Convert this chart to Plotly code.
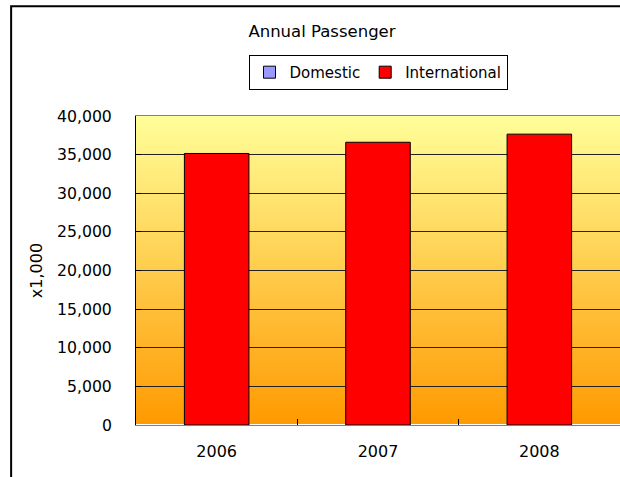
import plotly.graph_objects as go

years = ["2006", "2007", "2008"]
domestic = [None, None, None]
international = [35150, 36600, 37650]
y_ticks = [0, 5000, 10000, 15000, 20000, 25000, 30000, 35000, 40000]
y_tick_labels = ["0", "5,000", "10,000", "15,000", "20,000", "25,000", "30,000", "35,000", "40,000"]

FONT = "DejaVu Sans"

fig = go.Figure()
fig.add_trace(go.Bar(x=years, y=domestic, name="Domestic",
                     marker=dict(color="#9999FF", line=dict(color="black", width=1))))
fig.add_trace(go.Bar(x=years, y=international, name="International", width=0.4,
                     marker=dict(color="#FF0000", line=dict(color="black", width=1))))

# gradient background (yellow -> orange)
shapes = []
N = 100
top = (255, 255, 153)
bot = (255, 153, 0)
for i in range(N):
    t = (i + 0.5) / N
    r = round(bot[0] + (top[0] - bot[0]) * t)
    g = round(bot[1] + (top[1] - bot[1]) * t)
    b = round(bot[2] + (top[2] - bot[2]) * t)
    shapes.append(dict(type="rect", xref="x domain", yref="y domain",
                       x0=0, x1=1, y0=i / N, y1=min(1.0, (i + 2) / N),
                       fillcolor=f"rgb({r},{g},{b})", line=dict(width=0), layer="below"))
# outer chart border
shapes.append(dict(type="rect", xref="paper", yref="paper",
                   x0=-0.258, x1=1.2, y0=-0.4, y1=1.355,
                   line=dict(color="black", width=2), fillcolor="rgba(0,0,0,0)", layer="above"))

fig.update_layout(
    width=620, height=477,
    margin=dict(l=136, r=0, t=116, b=52),
    paper_bgcolor="white", plot_bgcolor="rgba(0,0,0,0)",
    barmode="overlay",
    font=dict(family=FONT, size=16, color="black"),
    title=dict(text="Annual Passenger", x=322 / 620, xanchor="center",
               y=1 - 31 / 477, yanchor="middle", font=dict(size=16.5, family=FONT)),
    legend=dict(orientation="h", x=0.5, xanchor="center", y=1.141, yanchor="middle",
                bordercolor="black", borderwidth=1, bgcolor="white",
                font=dict(size=15, family=FONT), itemwidth=30, traceorder="normal"),
    showlegend=True,
    shapes=shapes,
)
fig.update_xaxes(type="category", showline=True, linecolor="#808080", linewidth=1, mirror=True,
                 ticks="inside", tickson="boundaries", ticklen=6, tickcolor="black",
                 showgrid=False, ticklabelstandoff=12, tickfont=dict(size=16))
fig.update_yaxes(range=[0, 40000], tickvals=y_ticks, ticktext=y_tick_labels,
                 showline=True, linecolor="black", linewidth=1,
                 ticks="inside", ticklen=5, tickcolor="black",
                 showgrid=True, gridcolor="#222222", gridwidth=1,
                 ticklabelstandoff=20, tickfont=dict(size=15.7),
                 title=dict(text="x1,000", standoff=10, font=dict(size=16)))

fig.write_html("out.html", config={"displayModeBar": False},
               post_script="document.body.style.margin='0px';")
